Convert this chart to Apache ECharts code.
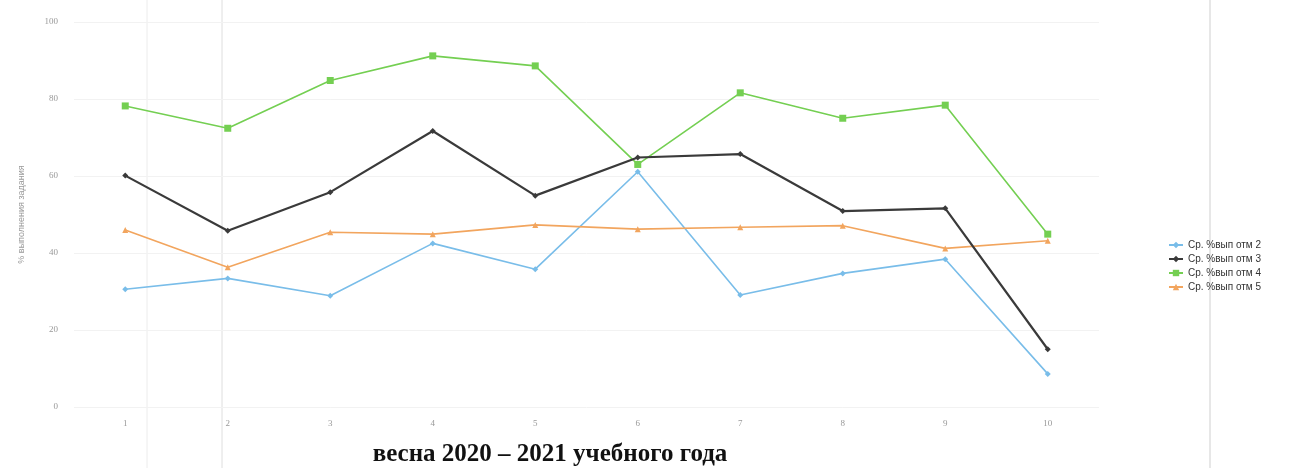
<!DOCTYPE html>
<html><head><meta charset="utf-8">
<script src="https://cdn.jsdelivr.net/npm/echarts@6/dist/echarts.min.js"></script>
<style>html,body{margin:0;padding:0;background:#fff}#c{width:1314px;height:468px}</style>
</head><body><div id="c"></div>
<script>
const categories = ['1','2','3','4','5','6','7','8','9','10'];
const yTicks = [0, 20, 40, 60, 80, 100];
const seriesNames = ['Ср. %вып отм 2','Ср. %вып отм 3','Ср. %вып отм 4','Ср. %вып отм 5'];
const grade2 = [30.6, 33.4, 28.9, 42.5, 35.8, 61.1, 29.1, 34.7, 38.4, 8.6];
const grade3 = [60.1, 45.8, 55.8, 71.7, 54.9, 64.8, 65.7, 50.9, 51.6, 15.0];
const grade4 = [78.2, 72.4, 84.8, 91.2, 88.6, 63.0, 81.6, 75.0, 78.4, 44.9];
const grade5 = [46.0, 36.3, 45.4, 44.9, 47.3, 46.2, 46.7, 47.1, 41.2, 43.2];
const yAxisName = '% выполнения задания';
const titleText = 'весна 2020 – 2021 учебного года';

const colors = ['#79bde9', '#3a3a3a', '#74cf52', '#f2a55e'];
const symbols = ['diamond', 'diamond', 'rect', 'triangle'];
const data = [grade2, grade3, grade4, grade5];

const chart = echarts.init(document.getElementById('c'), null, {renderer: 'canvas'});
chart.setOption({
  backgroundColor: '#fff',
  animation: false,
  title: {
    text: titleText, left: 545, top: 437, textAlign: 'center',
    textStyle: {fontFamily: 'Liberation Serif', fontWeight: 'bold', fontSize: 25, color: '#111'}
  },
  legend: {
    orient: 'vertical', left: 1163, top: 235, itemGap: 4,
    itemWidth: 14, itemHeight: 8,
    textStyle: {fontFamily: 'Liberation Sans', fontSize: 10, color: '#333'},
    data: seriesNames
  },
  grid: {left: 74, right: 1314 - 1099, top: 22, bottom: 468 - 407},
  xAxis: {
    type: 'category', data: categories, boundaryGap: true,
    axisLine: {show: false}, axisTick: {show: false},
    axisLabel: {color: '#999', fontSize: 9, margin: 12, fontFamily: 'Liberation Serif'},
    splitLine: {show: false}
  },
  yAxis: {
    type: 'value', min: yTicks[0], max: yTicks[yTicks.length - 1], interval: 20,
    name: yAxisName, nameLocation: 'middle', nameGap: 48, nameRotate: 90,
    nameTextStyle: {color: '#999', fontSize: 9, fontFamily: 'Liberation Sans'},
    axisLine: {show: false}, axisTick: {show: false},
    axisLabel: {color: '#999', fontSize: 9, margin: 16, fontFamily: 'Liberation Serif'},
    splitLine: {lineStyle: {color: '#f2f2f2', width: 1}}
  },
  series: seriesNames.map((n, i) => ({
    name: n, type: 'line', data: data[i],
    symbol: symbols[i], symbolSize: i === 2 ? 7 : 6,
    itemStyle: {color: colors[i]},
    lineStyle: {color: colors[i], width: i === 1 ? 2.2 : 1.6},
    z: i === 1 ? 3 : 2
  })),
  graphic: [
    {type: 'line', shape: {x1: 1210, y1: 0, x2: 1210, y2: 468}, style: {stroke: '#cfcfcf', lineWidth: 1}, silent: true},
    {type: 'line', shape: {x1: 147, y1: 0, x2: 147, y2: 468}, style: {stroke: '#ececec', lineWidth: 1}, silent: true},
    {type: 'line', shape: {x1: 222, y1: 0, x2: 222, y2: 468}, style: {stroke: '#dedede', lineWidth: 1}, silent: true}
  ]
});
</script></body></html>
